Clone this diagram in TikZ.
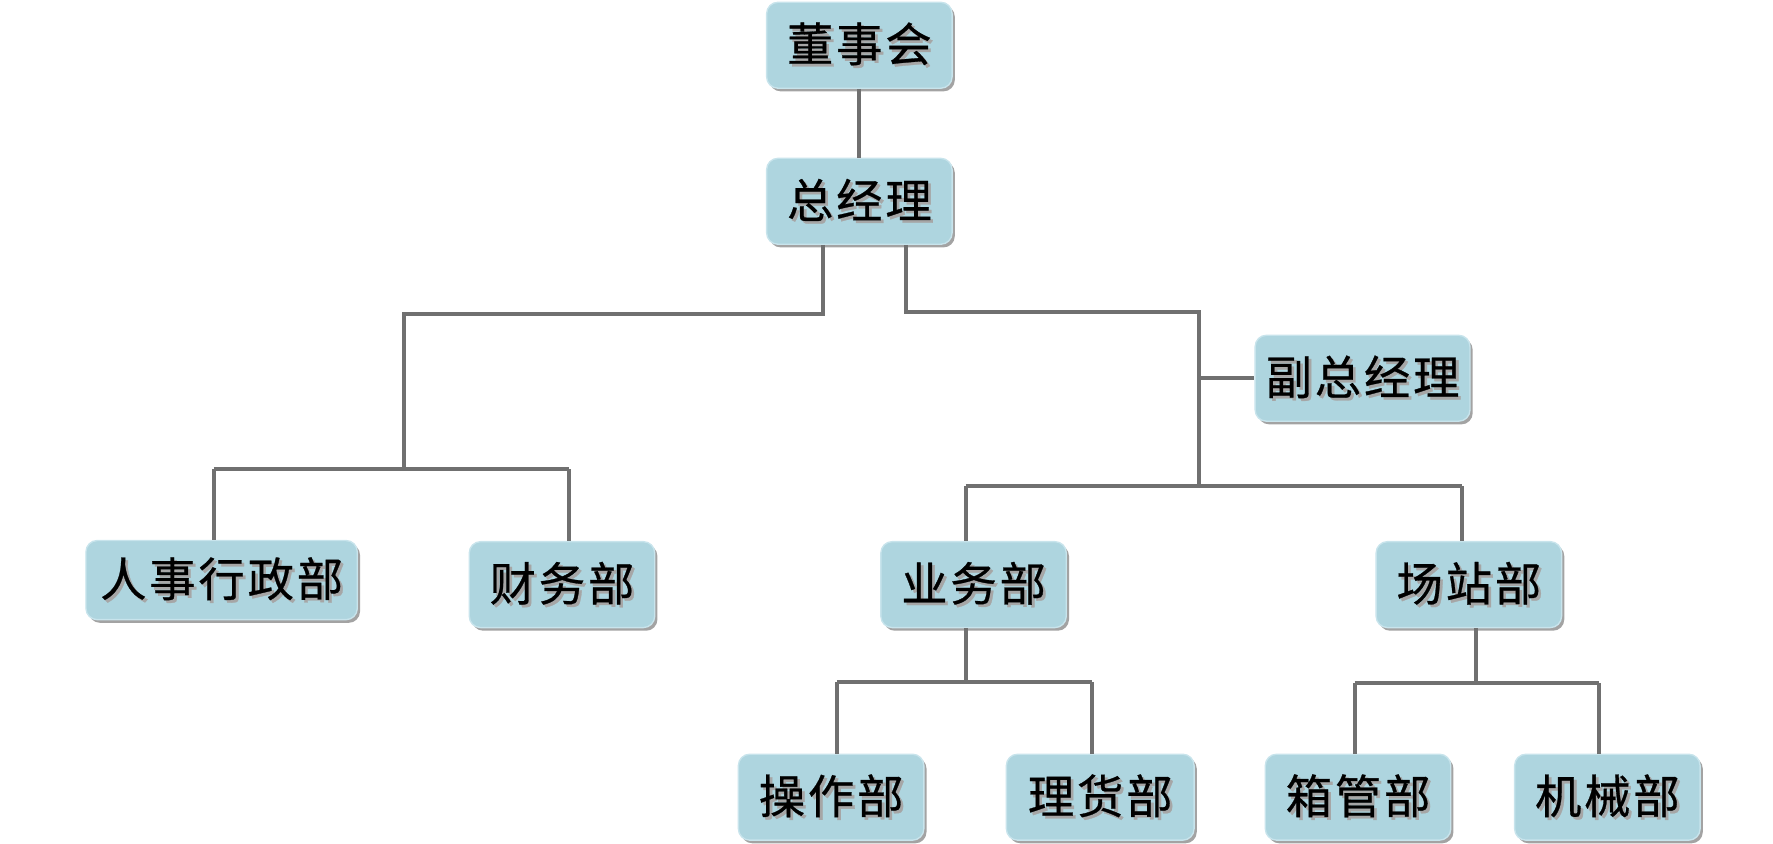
\documentclass[tikz,border=0pt]{standalone}
\usepackage{fontspec}
\newfontfamily\cjkfont[LetterSpace=6,FakeBold=0.6]{Noto Sans CJK SC}
\usetikzlibrary{shadows}
\definecolor{boxblue}{RGB}{174,213,223}
\definecolor{boxedge}{RGB}{200,228,236}
\definecolor{linegray}{RGB}{112,112,112}
\newcommand{\shtext}[1]{\makebox[0pt][l]{\hspace{1.2pt}\raisebox{-1.2pt}{\color{black!35}#1}}#1}
\tikzset{
  orgbox/.style={draw=boxedge, line width=0.6pt, fill=boxblue, rounded corners=5pt,
    minimum height=38pt, inner sep=0pt, font=\cjkfont\fontsize{20.5}{24}\selectfont,
    drop shadow={shadow xshift=1.2pt, shadow yshift=-1.4pt, fill=black!45, opacity=0.8}},
  conn/.style={draw=linegray, line width=1.7pt}
}
\begin{document}
\begin{tikzpicture}[x=0.5pt,y=-0.5pt]
\useasboundingbox (0,0) rectangle (1568,746);
% nodes
\node[orgbox, minimum width=82pt] (dsh) at (760,40) {\shtext{董事会}};
\node[orgbox, minimum width=82pt] (zjl) at (760,178) {\shtext{总经理}};
\node[orgbox, minimum width=95pt] (fzjl) at (1205,334.5) {\shtext{副总经理}};
\node[orgbox, minimum width=120pt, minimum height=35pt] (rs) at (196,513) {\shtext{人事行政部}};
\node[orgbox, minimum width=82pt] (cw) at (497,517) {\shtext{财务部}};
\node[orgbox, minimum width=82pt] (yw) at (861,517) {\shtext{业务部}};
\node[orgbox, minimum width=82pt] (cz) at (1299,517) {\shtext{场站部}};
\node[orgbox, minimum width=82pt] (czb) at (735,705) {\shtext{操作部}};
\node[orgbox, minimum width=83pt] (lh) at (973,705) {\shtext{理货部}};
\node[orgbox, minimum width=82pt] (xg) at (1201,705) {\shtext{箱管部}};
\node[orgbox, minimum width=82pt] (jx) at (1421.5,705) {\shtext{机械部}};
% junction coordinates
\coordinate (L1) at (728,278);
\coordinate (L2) at (357,278);
\coordinate (L3) at (357,415);
\coordinate (L4) at (189,415);
\coordinate (L5) at (503,415);
\coordinate (R1) at (801,276);
\coordinate (R2) at (1060,276);
\coordinate (R3) at (1060,430);
\coordinate (R4) at (854,430);
\coordinate (R5) at (1293,430);
\coordinate (Y1) at (854,603);
\coordinate (Y2) at (740,603);
\coordinate (Y3) at (966,603);
\coordinate (C1) at (1305,604);
\coordinate (C2) at (1198,604);
\coordinate (C3) at (1414,604);
% connectors
\draw[conn] (dsh) -- (zjl);
\draw[conn] (zjl.south -| L1) -- (L1) -- (L2) -- (L3);
\draw[conn] (L4) -- (L5);
\draw[conn] (L4) -- (rs.north -| L4);
\draw[conn] (L5) -- (cw.north -| L5);
\draw[conn] (zjl.south -| R1) -- (R1) -- (R2) -- (R3);
\draw[conn] (R2 |- fzjl.west) -- (fzjl.west);
\draw[conn] (R4) -- (R5);
\draw[conn] (R4) -- (yw.north -| R4);
\draw[conn] (R5) -- (cz.north -| R5);
\draw[conn] (yw.south -| Y1) -- (Y1);
\draw[conn] (Y2) -- (Y3);
\draw[conn] (Y2) -- (czb.north -| Y2);
\draw[conn] (Y3) -- (lh.north -| Y3);
\draw[conn] (cz.south -| C1) -- (C1);
\draw[conn] (C2) -- (C3);
\draw[conn] (C2) -- (xg.north -| C2);
\draw[conn] (C3) -- (jx.north -| C3);
\end{tikzpicture}
\end{document}
